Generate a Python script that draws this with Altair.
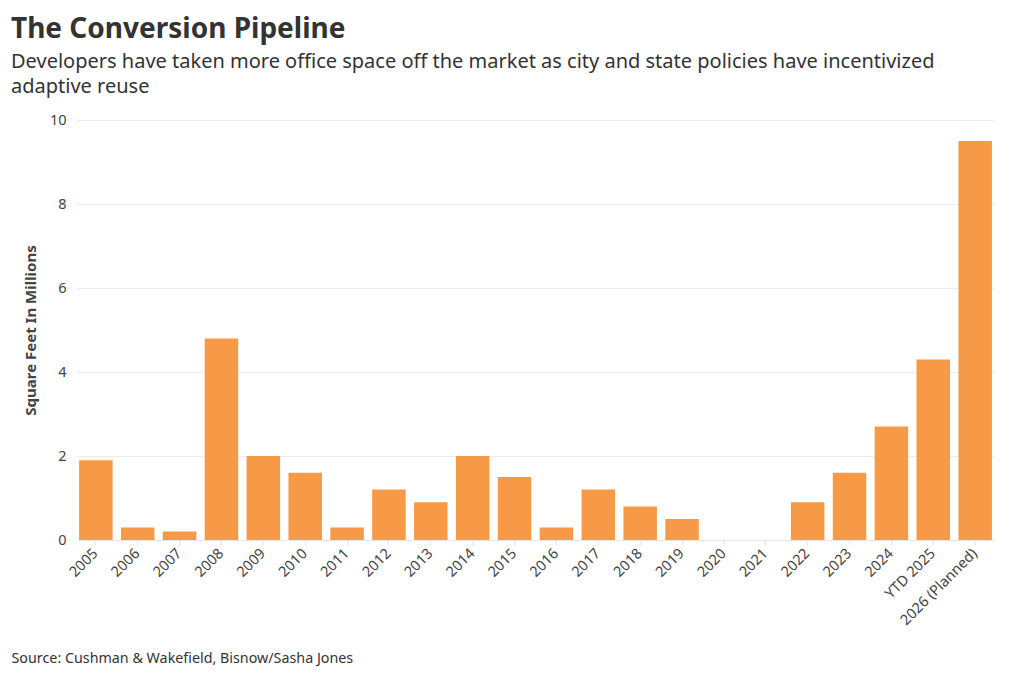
import altair as alt
import pandas as pd

categories = ["2005", "2006", "2007", "2008", "2009", "2010", "2011", "2012", "2013",
              "2014", "2015", "2016", "2017", "2018", "2019", "2020", "2021", "2022",
              "2023", "2024", "YTD 2025", "2026 (Planned)"]
values = [1.9, 0.3, 0.2, 4.8, 2.0, 1.6, 0.3, 1.2, 0.9, 2.0, 1.5, 0.3, 1.2, 0.8, 0.5,
          0.0, 0.0, 0.9, 1.6, 2.7, 4.3, 9.5]
y_ticks = [0, 2, 4, 6, 8, 10]

title_text = "The Conversion Pipeline"
subtitle_lines = [
    "Developers have taken more office space off the market as city and state policies have incentivized",
    "adaptive reuse",
]
y_title = "Square Feet In Millions"
source_text = "Source: Cushman & Wakefield, Bisnow/Sasha Jones"

df = pd.DataFrame({"category": categories, "value": values})

FONT = "Noto Sans"

chart = alt.Chart(df).mark_bar(color="#F69A48").encode(
    x=alt.X(
        "category:N",
        sort=categories,
        scale=alt.Scale(paddingInner=0.2, paddingOuter=0.05),
        axis=alt.Axis(
            title=source_text,
            titleAnchor="start",
            titleAlign="left",
            titleX=-66,
            titleY=122,
            titleBaseline="alphabetic",
            titleFont=FONT,
            titleFontSize=14.3,
            titleFontWeight="normal",
            titleColor="#333333",
            labelAngle=-45,
            labelAlign="right",
            labelBaseline="middle",
            labelFont=FONT,
            labelFontSize=14.5,
            labelColor="#444444",
            labelPadding=6,
            domainColor="#e6e6e6",
            tickColor="#e6e6e6",
            tickSize=5,
            grid=False,
        ),
    ),
    y=alt.Y(
        "value:Q",
        scale=alt.Scale(domain=[0, 10]),
        axis=alt.Axis(
            title=y_title,
            values=y_ticks,
            titleFont=FONT,
            titleFontSize=15,
            titleFontWeight="bold",
            titleColor="#444444",
            titlePadding=11,
            labelFont=FONT,
            labelFontSize=14.5,
            labelColor="#444444",
            labelPadding=11,
            domain=False,
            ticks=False,
            gridColor="#ececec",
        ),
    ),
).properties(
    width=917,
    height=420,
    title=alt.TitleParams(
        text=title_text,
        subtitle=subtitle_lines,
        anchor="start",
        frame="group",
        dx=-66,
        offset=15,
        font=FONT,
        fontSize=28,
        fontWeight="bold",
        color="#333333",
        subtitleFont=FONT,
        subtitleFontSize=20,
        subtitleColor="#333333",
        subtitleLineHeight=25,
        subtitlePadding=8,
    ),
    autosize=alt.AutoSizeParams(type="none"),
    padding={"left": 69, "top": 112, "right": 12, "bottom": 128},
).configure_view(stroke=None)

chart.save("out.html", embed_options={"renderer": "svg", "actions": False})
